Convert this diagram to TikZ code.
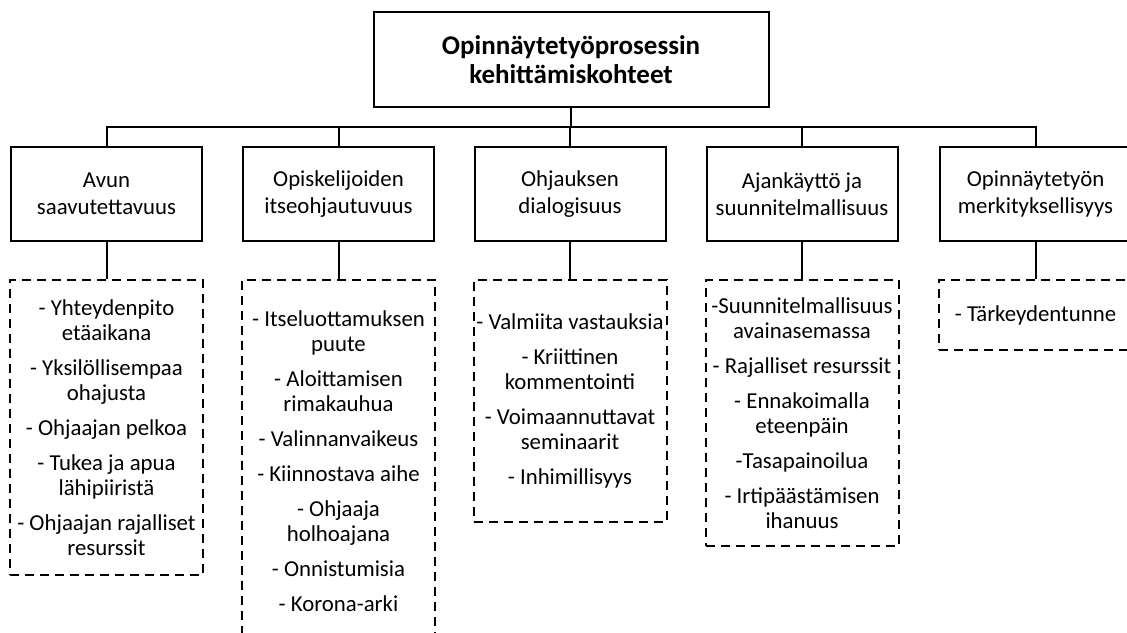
\documentclass[tikz,border=0pt]{standalone}
\usepackage{fontspec}
\setmainfont{Carlito}
\usetikzlibrary{positioning}
\tikzset{
  paa/.style={draw,line width=2pt,minimum width=395pt,minimum height=95pt,align=center,inner sep=2pt,font=\fontsize{27}{28.5}\selectfont\bfseries},
  aihe/.style={draw,line width=2pt,minimum width=191pt,minimum height=94pt,align=center,inner sep=2pt,font=\fontsize{22.8}{27}\selectfont},
  lista/.style={draw,line width=2pt,dash pattern=on 9pt off 6pt,minimum width=193pt,anchor=north,align=center,inner sep=1pt,font=\fontsize{22.8}{25}\selectfont},
  yhd/.style={line width=2pt}
}

\begin{document}
\begin{tikzpicture}[x=1pt,y=-1pt]
\path[use as bounding box,clip] (0,0) rectangle (1127,632);

\node[paa] (root) at (571,59.5) {Opinnäytetyöprosessin\\kehittämiskohteet};
\coordinate (bus) at (571,127);

\node[aihe] (avu) at (106.5,194) {Avun\\saavutettavuus};
\node[aihe] (ope) at (338.5,194) {Opiskelijoiden\\itseohjautuvuus};
\node[aihe] (ohj) at (570,194) {Ohjauksen\\dialogisuus};
\node[aihe] (aja) at (802,194) {Ajankäyttö ja\\suunnitelmallisuus};
\node[aihe] (mer) at (1035.5,194) {Opinnäytetyön\\merkityksellisyys};

\node[lista,minimum height=295pt] (lavu) at (106.5,279) {- Yhteydenpito\\etäaikana\\[10pt]- Yksilöllisempaa\\ohajusta\\[10pt]- Ohjaajan pelkoa\\[10pt]- Tukea ja apua\\lähipiiristä\\[10pt]- Ohjaajan rajalliset\\resurssit};
\node[lista,minimum height=363pt] (lope) at (338.5,279) {- Itseluottamuksen\\puute\\[10pt]- Aloittamisen\\rimakauhua\\[10pt]- Valinnanvaikeus\\[10pt]- Kiinnostava aihe\\[10pt]- Ohjaaja\\holhoajana\\[10pt]- Onnistumisia\\[10pt]- Korona-arki};
\node[lista,minimum height=242pt] (lohj) at (570,279) {- Valmiita vastauksia\\[10pt]- Kriittinen\\kommentointi\\[10pt]- Voimaannuttavat\\seminaarit\\[10pt]- Inhimillisyys};
\node[lista,minimum height=266pt] (laja) at (802,279) {-Suunnitelmallisuus\\avainasemassa\\[10pt]- Rajalliset resurssit\\[10pt]- Ennakoimalla\\eteenpäin\\[10pt]-Tasapainoilua\\[10pt]- Irtipäästämisen\\ihanuus};
\node[lista,minimum height=70pt] (lmer) at (1035.5,279) {- Tärkeydentunne};

\draw[yhd] (root.south) -- (bus);
\foreach \n in {avu,ope,ohj,aja,mer}{
  \draw[yhd] (bus) -| (\n.north);
  \draw[yhd] (\n.south) -- (l\n.north);
}

\end{tikzpicture}
\end{document}
